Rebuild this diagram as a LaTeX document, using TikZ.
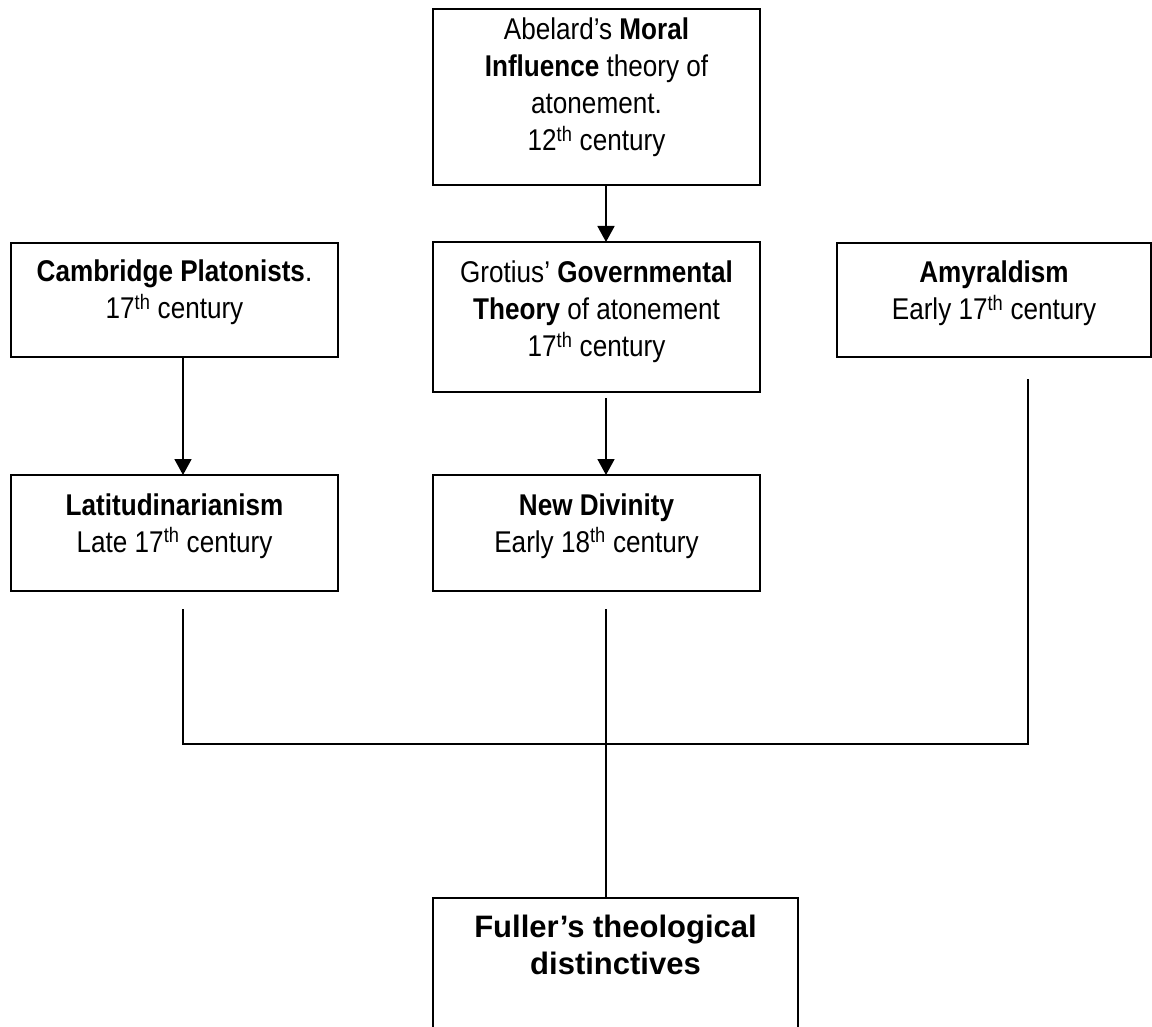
\documentclass[tikz,border=0pt]{standalone}
\usepackage{fontspec}
\setmainfont{Liberation Sans}[FakeStretch=0.87]
\newfontfamily\plainarial{Liberation Sans}
\usetikzlibrary{arrows.meta,calc}
\newcommand{\bxt}[4]{\parbox[t][#2][t]{#1}{\centering\rule{0pt}{#3}#4}}
\begin{document}
\begin{tikzpicture}[x=1pt,y=-1pt,
  boxnode/.style={draw,line width=1.8pt,inner sep=0pt,outer sep=0pt,anchor=north west,font=\fontsize{30}{37}\selectfont},
  conn/.style={line width=1.8pt},
  arr/.style={line width=1.8pt,-{Triangle[length=16pt,width=17pt]}}]
\useasboundingbox (0,0) rectangle (1152,1027);
\clip (0,0) rectangle (1152,1027);
\fill[white] (0,0) rectangle (1152,1027);
% boxes
\node[boxnode] (abelard) at (433,9) {\bxt{327pt}{176pt}{31pt}{Abelard’s \textbf{Moral}\\ \textbf{Influence} theory of\\ atonement.\\ 12\textsuperscript{th} century}};
\node[boxnode] (grotius) at (433,242) {\bxt{327pt}{150pt}{41pt}{Grotius’ \textbf{Governmental}\\ \textbf{Theory} of atonement\\ 17\textsuperscript{th} century}};
\node[boxnode] (cambridge) at (11,243) {\bxt{327pt}{114pt}{39pt}{\textbf{Cambridge Platonists}.\\ 17\textsuperscript{th} century}};
\node[boxnode] (amyr) at (837,243) {\bxt{314pt}{114pt}{40pt}{\textbf{Amyraldism}\\ Early 17\textsuperscript{th} century}};
\node[boxnode] (latit) at (11,475) {\bxt{327pt}{116pt}{40pt}{\textbf{Latitudinarianism}\\ Late 17\textsuperscript{th} century}};
\node[boxnode] (newdiv) at (433,475) {\bxt{327pt}{116pt}{40pt}{\textbf{New Divinity}\\ Early 18\textsuperscript{th} century}};
\node[boxnode,font=\plainarial\fontsize{31}{37}\selectfont\bfseries] (fuller) at (433,898) {\bxt{365pt}{170pt}{39pt}{Fuller’s theological\\ distinctives}};
% connector x positions
\coordinate (xl) at (183,0);
\coordinate (xm) at (606,0);
\coordinate (xr) at (1028,0);
\coordinate (jl) at (183,744);
\coordinate (jr) at (1028,744);
\coordinate (jm) at (606,744);
% arrows
\draw[arr] (abelard.south -| xm) -- (grotius.north -| xm);
\draw[arr] ($(grotius.south -| xm)+(0,6)$) -- (newdiv.north -| xm);
\draw[arr] (cambridge.south -| xl) -- (latit.north -| xl);
% merging lines
\draw[conn] ($(latit.south -| xl)+(0,18)$) -- (jl) -- (jr) -- ($(amyr.south -| xr)+(0,22)$);
\draw[conn] ($(newdiv.south -| xm)+(0,18)$) -- (jm) -- (fuller.north -| xm);
\end{tikzpicture}
\end{document}
